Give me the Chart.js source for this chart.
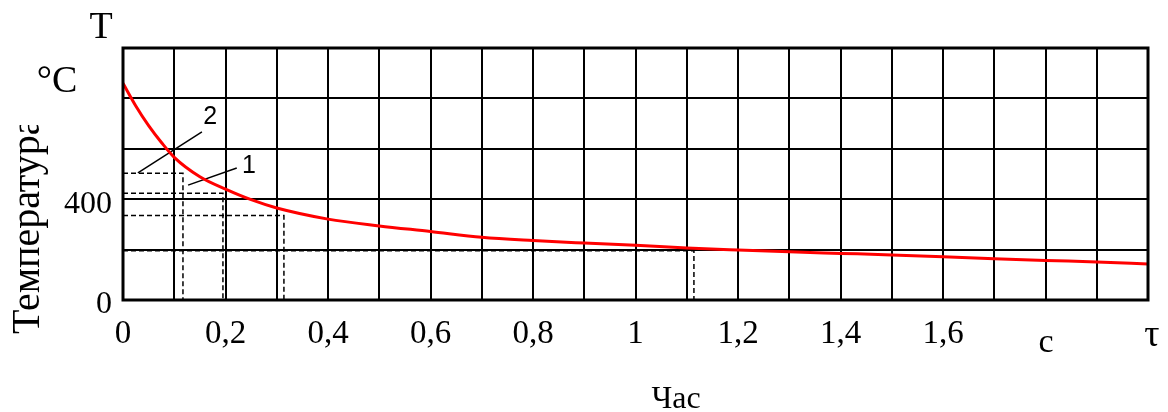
<!DOCTYPE html>
<html>
<head>
<meta charset="utf-8">
<script src="https://cdn.jsdelivr.net/npm/chart.js@4"></script>
<style>
html, body { margin: 0; padding: 0; background: #fff; }
</style>
</head>
<body>
<canvas id="coolingChart" width="1168" height="412"></canvas>
<script>
// cooling curve, time in hours, temperature in °C
const timeHours = [0, 0.025, 0.05, 0.075, 0.1, 0.15, 0.2, 0.25, 0.3, 0.4, 0.5, 0.6, 0.7, 0.8, 0.9, 1.0, 1.1, 1.2, 1.3, 1.4, 1.5, 1.6, 1.7, 1.8, 1.9, 2.0];
const temperature = [860, 770, 692, 625, 566, 489, 440, 398, 365, 321, 294, 272, 249, 236, 226, 217, 206, 198, 191, 185, 179, 172, 164, 157, 151, 143];

// dashed read-off lines (time, temperature)
const guideTimes = [0.117, 0.195, 0.314, 1.114];
const guideTemps = [503, 424, 335, 195];

// tick labels
const xTickLabels = ['0', '0,2', '0,4', '0,6', '0,8', '1', '1,2', '1,4', '1,6'];
const yTickLabels = { 0: '0', 400: '400' };

// numbered callouts: label, label pos, leader start, leader end
const calloutNames = ['1', '2'];
const calloutLabelAt = [[0.246, 530], [0.170, 726]];
const calloutFrom = [[0.127, 456], [0.029, 504]];
const calloutTo = [[0.222, 524], [0.154, 667]];

const serif = '"Liberation Serif", "Times New Roman", serif';

const datasets = [{
    data: timeHours.map((t, i) => ({ x: t, y: temperature[i] })),
    borderColor: '#ff0000',
    borderWidth: 3,
    pointRadius: 0,
    cubicInterpolationMode: 'monotone'
}];

guideTimes.forEach((t, i) => {
    datasets.push({
        data: [{ x: 0, y: guideTemps[i] }, { x: t, y: guideTemps[i] }, { x: t, y: 0 }],
        borderColor: '#000',
        borderWidth: 1.5,
        borderDash: [5, 3],
        pointRadius: 0,
        tension: 0
    });
});

calloutNames.forEach((n, i) => {
    datasets.push({
        data: [{ x: calloutFrom[i][0], y: calloutFrom[i][1] }, { x: calloutTo[i][0], y: calloutTo[i][1] }],
        borderColor: '#000',
        borderWidth: 1.5,
        pointRadius: 0,
        tension: 0
    });
});

const textPlugin = {
    id: 'texts',
    afterDraw(chart) {
        const ctx = chart.ctx;
        const a = chart.chartArea;
        const xs = chart.scales.x;
        const ys = chart.scales.y;
        ctx.save();

        // frame
        ctx.strokeStyle = '#000';
        ctx.lineWidth = 3;
        ctx.strokeRect(a.left, a.top, a.right - a.left, a.bottom - a.top);

        ctx.fillStyle = '#000';
        ctx.textAlign = 'center';
        ctx.textBaseline = 'alphabetic';
        ctx.font = '38px ' + serif;
        ctx.fillText('T', 101, 38);
        ctx.fillText('°C', 57, 92);

        ctx.font = '32px ' + serif;
        ctx.fillText('Час', 676, 408);
        ctx.font = '34px ' + serif;
        ctx.fillText('c', 1046, 352);
        ctx.font = '38px ' + serif;
        ctx.fillText('τ', 1152, 346);

        // vertical axis name, cut off at the top like the original
        ctx.save();
        ctx.beginPath();
        ctx.rect(0, 125, 70, 300);
        ctx.clip();
        ctx.translate(39, 334);
        ctx.rotate(-Math.PI / 2);
        ctx.textAlign = 'left';
        ctx.font = '40px ' + serif;
        ctx.fillText('Температура', 0, 0);
        ctx.restore();

        // callout numbers
        ctx.font = '25px "Liberation Sans", Arial, sans-serif';
        ctx.textBaseline = 'middle';
        calloutNames.forEach((n, i) => {
            ctx.fillText(n, xs.getPixelForValue(calloutLabelAt[i][0]), ys.getPixelForValue(calloutLabelAt[i][1]));
        });
        ctx.restore();
    }
};

new Chart(document.getElementById('coolingChart'), {
    type: 'line',
    data: { datasets: datasets },
    options: {
        responsive: false,
        animation: false,
        devicePixelRatio: 1,
        layout: { padding: { top: 48, right: 20, left: 0, bottom: 0 } },
        plugins: { legend: { display: false }, tooltip: { enabled: false } },
        scales: {
            x: {
                type: 'linear',
                min: 0,
                max: 2,
                afterFit: s => { s.height = 112; },
                ticks: {
                    stepSize: 0.1,
                    autoSkip: false,
                    maxRotation: 0,
                    padding: 15,
                    color: '#000',
                    font: { family: serif, size: 33 },
                    callback: v => {
                        const k = Math.round(v * 10);
                        if (k % 2 !== 0) return '';
                        return xTickLabels[k / 2] || '';
                    }
                },
                grid: { color: '#000', lineWidth: 2, drawTicks: false },
                border: { display: false }
            },
            y: {
                min: 0,
                max: 1000,
                afterFit: s => { s.width = 123; },
                ticks: {
                    stepSize: 200,
                    padding: 11,
                    labelOffset: 5,
                    color: '#000',
                    font: { family: serif, size: 32 },
                    callback: v => yTickLabels[v] || ''
                },
                grid: { color: '#000', lineWidth: 2, drawTicks: false },
                border: { display: false }
            }
        }
    },
    plugins: [textPlugin]
});
</script>
</body>
</html>
